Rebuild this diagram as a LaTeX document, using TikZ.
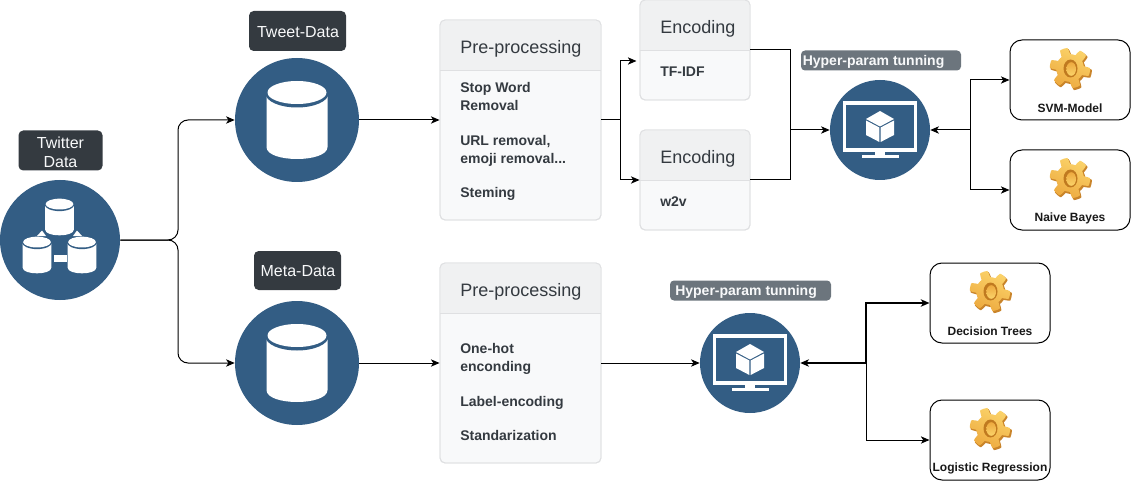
\documentclass[tikz,border=0pt]{standalone}
\usepackage{fontspec}
\setmainfont{Liberation Sans}
\usetikzlibrary{arrows.meta}
\definecolor{nodeblue}{HTML}{335D84}
\definecolor{darklab}{HTML}{343A40}
\definecolor{greylab}{HTML}{6C757D}
\definecolor{cardfill}{HTML}{F8F9FA}
\definecolor{cardline}{HTML}{DFE0E2}
\definecolor{cardhead}{HTML}{F0F1F2}
\definecolor{cardtext}{HTML}{343A40}
\definecolor{gearA}{HTML}{FBD36A}
\definecolor{gearB}{HTML}{EDAA3F}
\definecolor{gearC}{HTML}{C9842A}
\definecolor{gearD}{HTML}{C07A20}
\newlength{\pxu}\setlength{\pxu}{0.75pt}
\tikzset{
  x=0.75pt,y=-0.75pt,
  bignode/.style={circle,fill=nodeblue,draw=none,inner sep=0pt,minimum size=124*\pxu},
  hypnode/.style={circle,fill=nodeblue,draw=none,inner sep=0pt,minimum size=100*\pxu},
  twnode/.style={circle,fill=nodeblue,draw=none,inner sep=0pt,minimum size=120*\pxu},
  darktag/.style={rectangle,rounded corners=3.5pt,fill=darklab,text=cardfill,inner sep=0pt,font=\fontsize{12}{14.5}\selectfont,align=center},
  greytag/.style={rectangle,rounded corners=3pt,fill=greylab,text=cardfill,inner sep=0pt,font=\fontsize{10.5}{12}\selectfont\bfseries},
  cardbox/.style={rectangle,rounded corners=3.75pt,draw=cardline,line width=0.7pt,fill=cardfill,inner sep=0pt},
  cardtitle/.style={text=cardtext,inner sep=0pt,font=\fontsize{13.5}{16}\selectfont},
  cardbody/.style={anchor=west,text=cardtext,inner sep=0pt,align=left,font=\fontsize{10.5}{13.5}\selectfont\bfseries},
  modelbox/.style={rectangle,rounded corners=9pt,draw=black,line width=0.75pt,fill=white,inner sep=0pt,minimum width=120*\pxu,minimum height=80*\pxu},
  modeltext/.style={text=black!90,inner sep=0pt,font=\fontsize{9}{11}\selectfont\bfseries},
  conn/.style={draw=black,line width=0.75pt,-{Stealth[length=6.5pt,width=5.5pt,inset=1.8pt]}},
  plain/.style={draw=black,line width=0.75pt},
  thick conn/.style={conn,line width=1.1pt},
  cyl/.pic={
    \fill[white] (-30.5,-24) -- (-30.5,27) .. controls (-30.5,43) and (30.5,43) .. (30.5,27) -- (30.5,-24) -- cycle;
    \fill[nodeblue] (0,-26.5) ellipse (31.5 and 14);
    \fill[white] (0,-27.5) ellipse (29.5 and 11.5);
  },
  monitor/.pic={
    \draw[white,line width=2.4pt] (-35.5,-27) rectangle (35.5,20);
    \fill[white] (-5,21) rectangle (5,26);
    \fill[white] (-18.5,25) rectangle (18.5,28);
    \fill[white] (0,-19) -- (14,-11) -- (0,-3.5) -- (-14,-11) -- cycle;
    \fill[white] (-14,-9.5) -- (-0.6,-2.5) -- (-0.6,12) -- (-14,5) -- cycle;
    \fill[white] (14,-9.5) -- (0.6,-2.5) -- (0.6,12) -- (14,5) -- cycle;
  },
  gear/.pic={
    \fill[gearC,shift={(1.2,1.6)}] plot[domain=0:360,samples=145,variable=\t]
      ({(17.5+3.2*max(-1,min(1,2.6*sin(6*\t+20))))*cos(\t)},{(17.5+3.2*max(-1,min(1,2.6*sin(6*\t+20))))*sin(\t)}) -- cycle;
    \shade[top color=gearA,bottom color=gearB,shading angle=-25] plot[domain=0:360,samples=145,variable=\t]
      ({(17+3.2*max(-1,min(1,2.6*sin(6*\t+20))))*cos(\t)},{(17+3.2*max(-1,min(1,2.6*sin(6*\t+20))))*sin(\t)}) -- cycle;
    \fill[gearD] (0.5,0.5) ellipse (7 and 9);
    \shade[top color=gearB,bottom color=gearA] (1.2,1) ellipse (4.8 and 6.8);
  }
}
\begin{document}
\begin{tikzpicture}
\useasboundingbox (0,0) rectangle (1131,481);

% circles
\node[twnode] (twitter) at (60,240) {};
\node[bignode] (tweet) at (297,120) {};
\node[bignode] (meta) at (297,363) {};
\node[hypnode] (hyp1) at (880,130) {};
\node[hypnode] (hyp2) at (750,363) {};

% dark tags
\node[darktag,minimum width=84*\pxu,minimum height=40*\pxu] (ltwitter) at (60.5,150.5) {};
\node[text=cardfill,inner sep=0pt,font=\fontsize{12}{14.5}\selectfont,align=center] (ltwittert) at (60.5,152) {Twitter\\Data};
\node[darktag,minimum width=97*\pxu,minimum height=40*\pxu] (ltweet) at (297.5,31) {};
\node[text=cardfill,inner sep=0pt,font=\fontsize{12}{14.5}\selectfont] (ltweett) at (298,32.5) {Tweet-Data};
\node[darktag,minimum width=87*\pxu,minimum height=39*\pxu] (lmeta) at (297.5,270.5) {};
\node[text=cardfill,inner sep=0pt,font=\fontsize{12}{14.5}\selectfont] (lmetat) at (298,271.5) {Meta-Data};

% grey tags
\node[greytag,minimum width=160*\pxu,minimum height=20*\pxu] (lhyp1) at (881,60.5) {};
\node[greytag,fill=none,anchor=west] (lhyp1t) at (802.5,62) {Hyper-param tunning};
\node[greytag,minimum width=161*\pxu,minimum height=20*\pxu] (lhyp2) at (750.5,290.5) {};
\node[greytag,fill=none,anchor=west] (lhyp2t) at (675,292) {Hyper-param tunning};

% icons
\pic at (tweet.center) {cyl};
\pic at (meta.center) {cyl};
\pic[scale=0.47] at (59.5,217) {cyl};
\pic[scale=0.47] at (37,255) {cyl};
\pic[scale=0.47] at (82,255) {cyl};
\fill[white] (37,236) -- (42,230.5) -- (46,236) -- cycle;
\fill[white] (73,236) -- (77,230.5) -- (82,236) -- cycle;
\fill[white] (53.5,255) rectangle (66.5,262);
\pic at (hyp1.center) {monitor};
\pic at (hyp2.center) {monitor};

% cards
\node[cardbox,minimum width=161*\pxu,minimum height=200*\pxu] (pre1) at (520.5,120) {};
\begin{scope}
\clip[rounded corners=3.75pt] (440,20) rectangle (601,220);
\fill[cardhead] (440,20) rectangle (601,70);
\end{scope}
\draw[cardline,line width=0.7pt] (440,70.5) -- (601,70.5);
\node[cardbox,fill=none,minimum width=161*\pxu,minimum height=200*\pxu] at (520.5,120) {};
\node[cardtitle,anchor=west] (pre1t) at (460,48.5) {Pre-processing};
\node[cardbody] (pre1a) at (460,96) {Stop Word\\Removal};
\node[cardbody] (pre1b) at (460,150.5) {URL removal,\\emoji removal...};
\node[cardbody] (pre1c) at (460,193.5) {Steming};

\node[cardbox,minimum width=161*\pxu,minimum height=200*\pxu] (pre2) at (520.5,363) {};
\begin{scope}
\clip[rounded corners=3.75pt] (440,263) rectangle (601,463);
\fill[cardhead] (440,263) rectangle (601,313);
\end{scope}
\draw[cardline,line width=0.7pt] (440,313.5) -- (601,313.5);
\node[cardbox,fill=none,minimum width=161*\pxu,minimum height=200*\pxu] at (520.5,363) {};
\node[cardtitle,anchor=west] (pre2t) at (460,291.5) {Pre-processing};
\node[cardbody] (pre2a) at (460,358.5) {One-hot\\enconding};
\node[cardbody] (pre2b) at (460,402.5) {Label-encoding};
\node[cardbody] (pre2c) at (460,435.5) {Standarization};

\node[cardbox,minimum width=110*\pxu,minimum height=100*\pxu] (enc1) at (695,50) {};
\begin{scope}
\clip[rounded corners=3.75pt] (640,0) rectangle (750,100);
\fill[cardhead] (640,0) rectangle (750,50);
\end{scope}
\draw[cardline,line width=0.7pt] (640,50.5) -- (750,50.5);
\node[cardbox,fill=none,minimum width=110*\pxu,minimum height=100*\pxu] at (695,50) {};
\node[cardtitle,anchor=west] (enc1t) at (660,28.5) {Encoding};
\node[cardbody] (enc1a) at (660,72) {TF-IDF};

\node[cardbox,minimum width=110*\pxu,minimum height=100*\pxu] (enc2) at (695,180) {};
\begin{scope}
\clip[rounded corners=3.75pt] (640,130) rectangle (750,230);
\fill[cardhead] (640,130) rectangle (750,180);
\end{scope}
\draw[cardline,line width=0.7pt] (640,180.5) -- (750,180.5);
\node[cardbox,fill=none,minimum width=110*\pxu,minimum height=100*\pxu] at (695,180) {};
\node[cardtitle,anchor=west] (enc2t) at (660,158.5) {Encoding};
\node[cardbody] (enc2a) at (660,202) {w2v};

% model boxes
\node[modelbox] (svm) at (1070,80) {};
\node[modelbox] (nb) at (1070,190) {};
\node[modelbox] (dt) at (990,303) {};
\node[modelbox] (lr) at (990,440) {};
\pic at (1070,68) {gear};
\pic at (1070,178) {gear};
\pic at (990,291) {gear};
\pic at (990,428) {gear};
\node[modeltext] (svmt) at (1070,108) {SVM-Model};
\node[modeltext] (nbt) at (1070,218) {Naive Bayes};
\node[modeltext] (dtt) at (990,331) {Decision Trees};
\node[modeltext] (lrt) at (990,468) {Logistic Regression};

% junctions
\coordinate (j1) at (178,240);
\coordinate (j2) at (620,120);
\coordinate (e1in) at (636.5,61);
\coordinate (j3) at (790,130);
\coordinate (j4) at (970,130);
\coordinate (j5) at (866,363);

% connectors
\draw[conn,rounded corners=7.5pt] (twitter.east) -- (j1) |- (tweet.west);
\draw[conn,rounded corners=7.5pt] (twitter.east) -- (j1) |- (meta.west);
\draw[conn] (tweet.east) -- (pre1.west);
\draw[plain] (pre1.east) -- (j2);
\draw[conn] (j2) |- (e1in);
\draw[conn] (j2) |- (enc2.west);
\draw[plain] (enc1.east) -| (j3);
\draw[plain] (enc2.east) -| (j3);
\draw[conn] (j3) -- (hyp1.west);
\draw[conn] (j4) -- (hyp1.east);
\draw[conn] (j4) |- (svm.west);
\draw[conn] (j4) |- (nb.west);
\draw[conn] (meta.east) -- (pre2.west);
\draw[conn] (pre2.east) -- (hyp2.west);
\draw[thick conn] (j5) -- (hyp2.east);
\draw[thick conn] (j5) |- (dt.west);
\draw[conn] (j5) |- (lr.west);
\end{tikzpicture}
\end{document}
